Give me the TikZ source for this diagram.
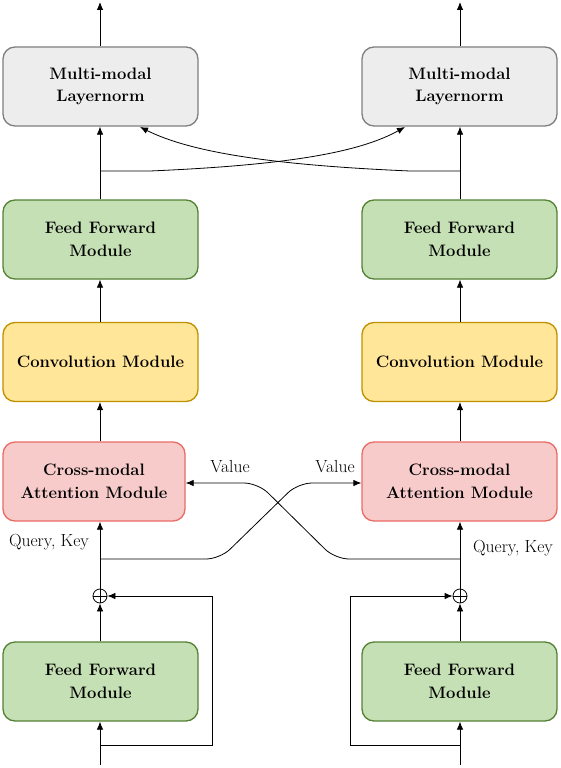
\documentclass[tikz,border=0pt]{standalone}
\usetikzlibrary{arrows.meta}
\definecolor{lnfill}{HTML}{EDEDED}
\definecolor{lndraw}{HTML}{7F7F7F}
\definecolor{fffill}{HTML}{C5E0B4}
\definecolor{ffdraw}{HTML}{548235}
\definecolor{cvfill}{HTML}{FFE699}
\definecolor{cvdraw}{HTML}{BF9000}
\definecolor{cmfill}{HTML}{F8CBCB}
\definecolor{cmdraw}{HTML}{EA6B66}
\tikzset{
  blk/.style={rectangle, rounded corners=12pt, minimum width=195pt, minimum height=79pt, inner sep=0pt, align=center, line width=1.3pt, font=\fontsize{16.6}{22.5}\selectfont\bfseries},
  lnbox/.style={blk, fill=lnfill, draw=lndraw},
  ffbox/.style={blk, fill=fffill, draw=ffdraw},
  cvbox/.style={blk, fill=cvfill, draw=cvdraw},
  cmbox/.style={blk, fill=cmfill, draw=cmdraw},
  arr/.style={-{Latex[length=8pt,width=6.5pt]}, line width=0.8pt},
  ln/.style={line width=0.8pt},
  lbl/.style={font=\fontsize{17.5}{20}\selectfont, inner sep=0pt},
  plus/.style={circle, draw, line width=0.8pt, minimum size=14pt, inner sep=0pt, path picture={\draw[line width=0.8pt] (path picture bounding box.north) -- (path picture bounding box.south) (path picture bounding box.west) -- (path picture bounding box.east);}}
}
\begin{document}
\begin{tikzpicture}[x=1pt,y=-1pt]
\useasboundingbox (0,0) rectangle (560,768);
% left column
\node[lnbox] (lnL) at (100.5,86.5) {Multi-modal\\Layernorm};
\node[ffbox] (ffL) at (100.5,239.5) {Feed Forward\\Module};
\node[cvbox] (cvL) at (100.5,362) {Convolution Module};
\node[cmbox,minimum width=182pt] (cmL) at (94,481.5) {Cross-modal\\Attention Module};
\node[plus] (pL) at (100,596) {};
\node[ffbox] (fbL) at (100.5,681.5) {Feed Forward\\Module};
% right column
\node[lnbox] (lnR) at (459.5,86.5) {Multi-modal\\Layernorm};
\node[ffbox] (ffR) at (459.5,239.5) {Feed Forward\\Module};
\node[cvbox] (cvR) at (459.5,362) {Convolution Module};
\node[cmbox] (cmR) at (459.5,481.5) {Cross-modal\\Attention Module};
\node[plus] (pR) at (460,596) {};
\node[ffbox] (fbR) at (459.5,681.5) {Feed Forward\\Module};
% coordinates
\coordinate (outL) at (100,2);
\coordinate (outR) at (460,2);
\coordinate (inL) at (100,765);
\coordinate (inR) at (460,765);
\coordinate (jL) at (100,171);
\coordinate (jR) at (460,171);
\coordinate (qL) at (100,559);
\coordinate (qR) at (460,559);
\coordinate (rL) at (100,745);
\coordinate (rR) at (460,745);
% vertical flow
\draw[arr] (lnL.north -| outL) -- (outL);
\draw[arr] (lnR.north -| outR) -- (outR);
\draw[arr] (ffL.north -| jL) -- (lnL.south -| jL);
\draw[arr] (ffR.north -| jR) -- (lnR.south -| jR);
\draw[arr] (cvL.north -| jL) -- (ffL.south -| jL);
\draw[arr] (cvR.north -| jR) -- (ffR.south -| jR);
\draw[arr] (cmL.north -| jL) -- (cvL.south -| jL);
\draw[arr] (cmR.north -| jR) -- (cvR.south -| jR);
\draw[arr] (pL.north) -- (cmL.south -| pL);
\draw[arr] (pR.north) -- (cmR.south -| pR);
\draw[arr] (fbL.north -| pL) -- (pL.south);
\draw[arr] (fbR.north -| pR) -- (pR.south);
\draw[arr] (inL) -- (fbL.south -| inL);
\draw[arr] (inR) -- (fbR.south -| inR);
% residuals
\draw[arr] (rL) -- (212,745) -- (212,596) -- (pL.east);
\draw[arr] (rR) -- (350,745) -- (350,596) -- (pR.west);
% top cross to layernorms
\draw[arr] (jL) -- (150,171) .. controls (290,165) and (360,152) .. (405,127);
\draw[arr] (jR) -- (410,171) .. controls (270,165) and (190,152) .. (140,127);
% value cross
\draw[arr, rounded corners=14pt] (qL) -- (220,559) -- (298,483) -- (cmR.west |- 0,483);
\draw[arr, rounded corners=14pt] (qR) -- (335,559) -- (258,483) -- (cmL.east |- 0,483);
% labels
\node[lbl] (vL) at (230,467) {Value};
\node[lbl] (vR) at (335,467) {Value};
\node[lbl] (qkL) at (49,542) {Query, Key};
\node[lbl] (qkR) at (513,548) {Query, Key};
\end{tikzpicture}
\end{document}
